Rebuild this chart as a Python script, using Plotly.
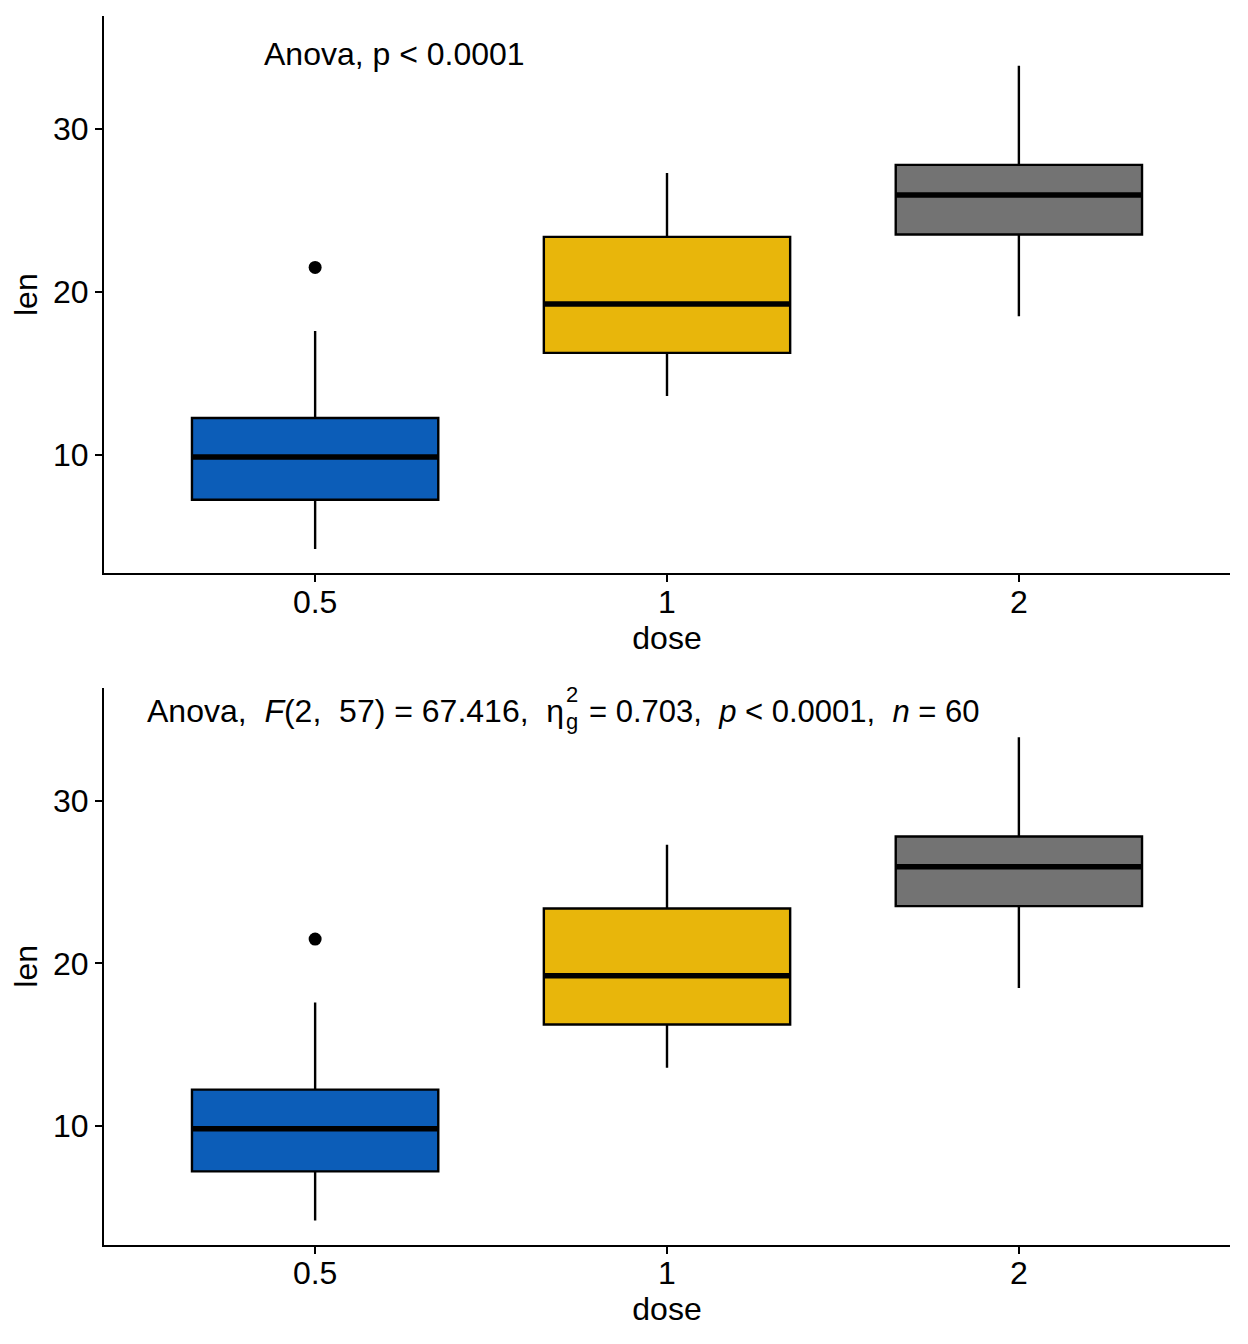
import plotly.graph_objects as go

# ---- data (ToothGrowth len by dose, box statistics) ----
doses = ["0.5", "1", "2"]
q1 = [7.225, 16.25, 23.525]
median = [9.85, 19.25, 25.95]
q3 = [12.25, 23.375, 27.8]
lower_whisker = [4.2, 13.6, 18.5]
upper_whisker = [17.6, 27.3, 33.9]
outlier_dose = ["0.5"]
outlier_len = [21.5]
fill_colors = ["#0C5DB8", "#E8B60B", "#737373"]

top_label = "Anova, p < 0.0001"
bottom_left = "Anova,  <i>F</i>(2,  57) = 67.416,  η"
bottom_sup = "2"
bottom_sub = "g"
bottom_right = "= 0.703,  <i>p</i> < 0.0001,  <i>n</i> = 60"

BOX_W = 0.7
FONT = "Liberation Sans, Arial, sans-serif"
FS = 32

fig = go.Figure()

panels = [("x", "y"), ("x2", "y2")]
for xa, ya in panels:
    for i, d in enumerate(doses):
        fig.add_trace(go.Box(
            x=[i], q1=[q1[i]], median=[median[i]], q3=[q3[i]],
            lowerfence=[lower_whisker[i]], upperfence=[upper_whisker[i]],
            width=BOX_W, whiskerwidth=0, fillcolor=fill_colors[i],
            line=dict(color="black", width=2.4), boxpoints=False,
            xaxis=xa, yaxis=ya, showlegend=False, hoverinfo="skip"))
        fig.add_trace(go.Scatter(
            x=[i - BOX_W / 2, i + BOX_W / 2], y=[median[i], median[i]],
            mode="lines", line=dict(color="black", width=5.5),
            xaxis=xa, yaxis=ya, showlegend=False, hoverinfo="skip"))
    fig.add_trace(go.Scatter(
        x=[doses.index(d) for d in outlier_dose], y=outlier_len,
        mode="markers", marker=dict(color="black", size=13),
        xaxis=xa, yaxis=ya, showlegend=False, hoverinfo="skip"))

axis_common = dict(
    showline=True, linecolor="black", linewidth=2,
    ticks="outside", ticklen=7, tickwidth=2, tickcolor="black",
    showgrid=False, zeroline=False,
    tickfont=dict(family=FONT, size=FS, color="black"),
)
xcommon = dict(axis_common, range=[-0.6, 2.6], tickvals=[0, 1, 2], ticktext=doses,
               ticklabelstandoff=-8,
               title=dict(text="dose", font=dict(family=FONT, size=FS, color="black"), standoff=6))
ycommon = dict(axis_common, range=[2.7, 36.95], tickvals=[10, 20, 30],
               title=dict(text="len", font=dict(family=FONT, size=FS, color="black"), standoff=6))

fig.update_layout(
    width=1248, height=1344,
    margin=dict(l=104, r=18, t=16, b=99),
    paper_bgcolor="white", plot_bgcolor="white",
    font=dict(family=FONT, size=FS, color="black"),
    xaxis=dict(xcommon, domain=[0, 1], anchor="y"),
    yaxis=dict(ycommon, domain=[0.5465, 1], anchor="x"),
    xaxis2=dict(xcommon, domain=[0, 1], anchor="y2"),
    yaxis2=dict(ycommon, domain=[0, 0.4535], anchor="x2"),
)

ann_font = dict(family=FONT, size=32, color="black")
left_font = dict(family=FONT, size=32, color="black")
bot_font = dict(family=FONT, size=31, color="black")
small_font = dict(family=FONT, size=22, color="black")
fig.add_annotation(x=-0.152, y=34.6, xref="x", yref="y", text=top_label,
                   showarrow=False, xanchor="left", yanchor="middle", font=ann_font)
fig.add_annotation(x=0.712, y=35.5, xref="x2", yref="y2", text=bottom_left,
                   showarrow=False, xanchor="right", yanchor="middle", font=left_font)
fig.add_annotation(x=0.729, y=36.5, xref="x2", yref="y2", text=bottom_sup,
                   showarrow=False, xanchor="center", yanchor="middle", font=small_font)
fig.add_annotation(x=0.729, y=34.85, xref="x2", yref="y2", text=bottom_sub,
                   showarrow=False, xanchor="center", yanchor="middle", font=small_font)
fig.add_annotation(x=0.772, y=35.5, xref="x2", yref="y2", text=bottom_right,
                   showarrow=False, xanchor="left", yanchor="middle", font=bot_font)

fig.write_html("out.html")
